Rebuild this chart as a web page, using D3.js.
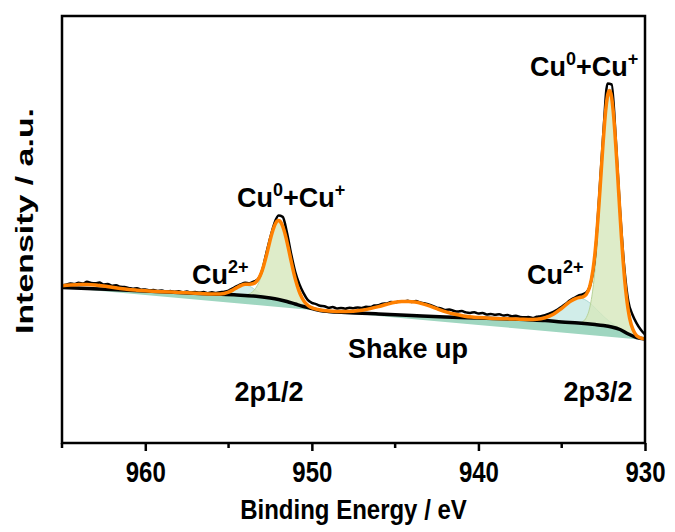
<!DOCTYPE html>
<html>
<head>
<meta charset="utf-8">
<script src="https://cdn.jsdelivr.net/npm/d3@7"></script>
<style>
  html, body { margin: 0; padding: 0; background: #fff; }
  svg text { font-family: Arial, "Liberation Sans", sans-serif; font-weight: bold; fill: #000; }
</style>
</head>
<body>
<svg id="chart" width="675" height="532"></svg>
<script>
// Cu 2p XPS spectrum, binding energy (eV) vs intensity (a.u.)

// raw spectrum: 965 eV down to 930 eV, 0.25 eV step
const rawStart = 965;
const rawStep = 0.25;
const rawIntensity = [
  157.5, 158.2, 159.6, 158.9, 160.3, 159.4, 161.2, 160.1, 159.7, 160.4,
  158.6, 158.9, 157.3, 157.8, 156.2, 155.9, 155.1, 154.2, 154.8, 153.3,
  153.6, 152.4, 152.9, 151.8, 152.6, 151.2, 151.9, 150.8, 151.7, 150.6,
  151.4, 150.3, 151.1, 150.2, 150.9, 149.8, 150.7, 150.1, 150.8, 151.3,
  152.4, 154.6, 156.8, 158.9, 160.2, 159.8, 161.4, 163.5, 171.8, 188.5,
  205.1, 219.6, 227.4, 226.1, 210.8, 189.6, 171.2, 158.7, 149.8, 143.1,
  140.2, 138.9, 137.3, 136.8, 135.2, 135.9, 134.6, 135.1, 134.3, 135.2,
  134.8, 135.6, 135.1, 136.3, 135.9, 137.4, 137.8, 139.2, 139.6, 140.9,
  140.4, 141.8, 141.2, 142.3, 141.1, 141.9, 140.5, 139.8, 138.6, 137.2,
  135.4, 134.6, 133.1, 133.5, 132.2, 131.4, 131.9, 130.6, 130.1, 130.8,
  129.4, 129.9, 128.6, 129.1, 128.2, 128.7, 127.5, 127.9, 126.8, 127.2,
  126.1, 125.7, 125.9, 125.1, 126.2, 126.8, 127.9, 129.4, 131.2, 133.5,
  136.1, 139.3, 142.6, 145.1, 147.3, 148.6, 150.9, 160.4, 187.2, 246.5,
  310.2, 359.5, 358.5, 302.6, 233.2, 176.4, 141.5, 128.3, 119.6, 113.2,
  108.5
];

// fitted envelope
const envelope = [
  [965, 157.2], [964.5, 158.1], [964, 158.4], [963.5, 158.5], [963, 158], [962.5, 157],
  [962, 155.7], [961.5, 154.5], [961, 153.5], [960.5, 152.8], [960, 152.2], [959, 151.3],
  [958, 150.6], [957, 149.8], [956, 149.1], [955.5, 149.1], [955, 150.9], [954.75, 152.9],
  [954.5, 155.4], [954.25, 157.5], [954, 158.7], [953.75, 158.8], [953.5, 159.5], [953.38, 160.7],
  [953.18, 164.8], [953.08, 168.2], [952.98, 172.6], [952.88, 178], [952.78, 184.1], [952.68, 190.7],
  [952.58, 197.6], [952.48, 204.5], [952.38, 210.5], [952.28, 215.6], [952.18, 219.5], [952.08, 221.9],
  [951.98, 222.4], [951.88, 221.1], [951.78, 217.9], [951.68, 213.2], [951.58, 207.2], [951.48, 200.2],
  [951.38, 192.5], [951.28, 184.6], [951.18, 177], [951.08, 169.7], [950.98, 163.1], [950.78, 152.3],
  [950.58, 144.7], [950.38, 139.8], [950.18, 136.9], [949.98, 135.1], [949.5, 133], [949, 132],
  [948, 131.4], [947, 132.8], [946.5, 134.4], [946, 136.4], [945.5, 138.7], [945, 140.7],
  [944.6, 141.5], [944.2, 141.6], [943.8, 140.9], [943.4, 139.4], [942.9, 136.8], [942.4, 133.7],
  [941.9, 130.9], [941.4, 128.7], [940.9, 127.1], [940.4, 126], [940, 125.5], [939.5, 125],
  [939, 124.5], [938.5, 124.25], [938, 124], [937.5, 123.8], [937, 123.5], [936.5, 123.75],
  [936, 125.25], [935.5, 128.7], [935, 134.65], [934.5, 141.4], [934.12, 144.65], [933.92, 145.5],
  [933.72, 146.2], [933.52, 148.8], [933.32, 156.2], [933.12, 173.5], [933.02, 187.1], [932.92, 204.5],
  [932.82, 225.4], [932.72, 249.1], [932.62, 274.2], [932.52, 299], [932.42, 321.3], [932.32, 338.7],
  [932.22, 349.6], [932.12, 352.5], [932.02, 347.2], [931.92, 333.6], [931.82, 313.6], [931.72, 288.7],
  [931.62, 261.5], [931.52, 233.8], [931.42, 207.2], [931.32, 183.4], [931.22, 163.2], [931.12, 147],
  [930.92, 124.7], [930.72, 113.3], [930.52, 107.7], [930.32, 105.4], [930.12, 104.35], [930, 104]
];

// Shirley-type background
const background = [
  [965, 155.5], [962, 153.5], [960, 152], [958, 150.5], [956, 149], [954.5, 148],
  [953.5, 147], [952.5, 145], [952, 143.5], [951.5, 141.5], [951, 139], [950.5, 136.5],
  [950, 134.5], [949.5, 132.5], [949, 131.5], [948, 130.5], [947, 129.8], [946, 129],
  [944, 127.5], [942, 126], [940, 125], [938, 124], [937, 123.3], [936, 122.5],
  [935, 121], [934, 120], [933, 118.5], [932.5, 117.5], [932, 116], [931.5, 113.5],
  [931, 109], [930.5, 105.5], [930, 104]
];

// straight baseline under the fit
const baseline = [[965, 155.5], [930, 103]];

// fitted components, height above background
const cu0Cu1_2p12 = [
  [954.4, 0.1], [953.98, 0.7], [953.58, 3.8], [953.38, 7.8], [953.18, 14.4], [952.98, 24.2],
  [952.88, 30.3], [952.78, 37.1], [952.68, 44.2], [952.58, 51.6], [952.48, 58.8], [952.38, 65.4],
  [952.28, 71], [952.18, 75.3], [952.08, 78.1], [951.98, 79], [951.88, 78.1], [951.78, 75.3],
  [951.68, 71], [951.58, 65.4], [951.48, 58.8], [951.38, 51.6], [951.28, 44.2], [951.18, 37.1],
  [951.08, 30.3], [950.98, 24.2], [950.78, 14.4], [950.58, 7.8], [950.38, 3.8], [950.18, 1.7],
  [949.98, 0.7], [949.6, 0.1]
];
const cu2_2p12 = [
  [956, 0.04], [955.5, 0.46], [955.25, 1.2], [955, 2.6], [954.75, 4.8], [954.5, 7.4],
  [954.25, 9.6], [954, 10.5], [953.75, 9.6], [953.5, 7.4], [953.25, 4.8], [953, 2.6],
  [952.75, 1.2], [952.5, 0.46], [952, 0.04]
];
const cu0Cu1_2p32 = [
  [934.12, 0.15], [933.92, 0.6], [933.72, 2.0], [933.52, 6.2], [933.32, 16.1], [933.12, 36.4],
  [933.02, 51.6], [932.92, 70.7], [932.82, 93.3], [932.72, 118.7], [932.62, 145.5], [932.52, 171.8],
  [932.42, 195.6], [932.32, 214.5], [932.22, 226.8], [932.12, 231], [932.02, 226.8], [931.92, 214.5],
  [931.82, 195.6], [931.72, 171.8], [931.62, 145.5], [931.52, 118.7], [931.42, 93.3], [931.32, 70.7],
  [931.22, 51.6], [931.12, 36.4], [930.92, 16.1], [930.72, 6.2], [930.52, 2.0], [930.32, 0.6],
  [930.12, 0.15], [930, 0.05]
];
const cu2_2p32 = [
  [937, 0.2], [936.4, 1.1], [936.15, 2.0], [935.9, 3.4], [935.65, 5.4], [935.4, 8.1],
  [935.15, 11.5], [934.9, 15.2], [934.65, 18.9], [934.4, 22.1], [934.15, 24.2], [933.9, 25],
  [933.65, 24.2], [933.4, 22.1], [933.15, 18.9], [932.9, 15.2], [932.65, 11.5], [932.4, 8.1],
  [932.15, 5.4], [931.9, 3.4], [931.65, 2.0], [931.4, 1.1], [930.8, 0.2]
];

const xTicks = [960, 950, 940, 930];
const xMinorTicks = [965, 955, 945, 935];

const width = 675, height = 532;
const margin = { left: 62, right: 30, top: 16, bottom: 89 };
const plotW = width - margin.left - margin.right;
const plotH = height - margin.top - margin.bottom;

const svg = d3.select("#chart");

const x = d3.scaleLinear().domain([965, 930]).range([margin.left, margin.left + plotW]);
const y = d3.scaleLinear().domain([0, 427]).range([margin.top + plotH, margin.top]);

// background / baseline as piecewise-linear scales
const bg = d3.scaleLinear().domain(background.map(d => d[0])).range(background.map(d => d[1])).clamp(true);
const base = d3.scaleLinear().domain(baseline.map(d => d[0])).range(baseline.map(d => d[1]));

svg.append("clipPath").attr("id", "plotClip")
  .append("rect")
  .attr("x", margin.left).attr("y", margin.top)
  .attr("width", plotW).attr("height", plotH);

const plot = svg.append("g").attr("clip-path", "url(#plotClip)");

// teal band between straight baseline and background
plot.append("path")
  .datum(background)
  .attr("fill", "#9fd6c0")
  .attr("d", d3.area()
    .x(d => x(d[0]))
    .y0(d => y(base(d[0])))
    .y1(d => y(d[1])));

const compArea = d3.area()
  .curve(d3.curveMonotoneX)
  .x(d => x(d[0]))
  .y0(d => y(bg(d[0])))
  .y1(d => y(bg(d[0]) + d[1]));

const components = [
  { data: cu2_2p12, fill: "#c6e9e4", edge: "#a9d8d2" },
  { data: cu2_2p32, fill: "#c6e9e4", edge: "#a9d8d2" },
  { data: cu0Cu1_2p12, fill: "#d6e7bb", edge: "#b7d39a" },
  { data: cu0Cu1_2p32, fill: "#d6e7bb", edge: "#b7d39a" }
];

plot.selectAll("path.comp")
  .data(components)
  .enter()
  .append("path")
  .attr("class", "comp")
  .attr("d", d => compArea(d.data))
  .attr("fill", d => d.fill)
  .attr("fill-opacity", 0.8)
  .attr("stroke", d => d.edge)
  .attr("stroke-width", 1);

// raw data
plot.append("path")
  .datum(rawIntensity)
  .attr("fill", "none")
  .attr("stroke", "#000")
  .attr("stroke-width", 2.5)
  .attr("stroke-linejoin", "round")
  .attr("d", d3.line()
    .curve(d3.curveMonotoneX)
    .x((d, i) => x(rawStart - i * rawStep))
    .y(d => y(d)));

// background line
plot.append("path")
  .datum(background)
  .attr("fill", "none")
  .attr("stroke", "#000")
  .attr("stroke-width", 3.5)
  .attr("d", d3.line().curve(d3.curveMonotoneX).x(d => x(d[0])).y(d => y(d[1])));

// fit envelope
plot.append("path")
  .datum(envelope)
  .attr("fill", "none")
  .attr("stroke", "#ff8000")
  .attr("stroke-width", 3.5)
  .attr("stroke-linejoin", "round")
  .attr("d", d3.line().curve(d3.curveMonotoneX).x(d => x(d[0])).y(d => y(d[1])));

// frame
svg.append("rect")
  .attr("x", margin.left).attr("y", margin.top)
  .attr("width", plotW).attr("height", plotH)
  .attr("fill", "none")
  .attr("stroke", "#000")
  .attr("stroke-width", 2.5);

// bottom axis
const axisY = margin.top + plotH;
const xAxis = svg.append("g").attr("transform", `translate(0,${axisY})`)
  .call(d3.axisBottom(x).tickValues(xTicks).tickSize(8).tickSizeOuter(0).tickFormat(d3.format("d")));
xAxis.select(".domain").remove();
xAxis.selectAll(".tick line").attr("stroke", "#000").attr("stroke-width", 2.5);
xAxis.selectAll(".tick text")
  .attr("dy", null)
  .attr("y", 0)
  .attr("transform", "translate(0,39) scale(1,1.22)")
  .style("font-size", "24px")
  .style("font-family", "Arial, 'Liberation Sans', sans-serif")
  .style("font-weight", "bold");

svg.append("g").selectAll("line")
  .data(xMinorTicks)
  .enter()
  .append("line")
  .attr("x1", d => x(d)).attr("x2", d => x(d))
  .attr("y1", axisY).attr("y2", axisY + 5)
  .attr("stroke", "#000").attr("stroke-width", 2.5);

// axis titles
svg.append("text")
  .attr("transform", `translate(${x(947.5)},519) scale(1,1.17)`)
  .attr("text-anchor", "middle")
  .style("font-size", "24px")
  .text("Binding Energy / eV");

svg.append("text")
  .attr("transform", "translate(33,221) rotate(-90)")
  .attr("text-anchor", "middle")
  .attr("textLength", 226)
  .attr("lengthAdjust", "spacingAndGlyphs")
  .style("font-size", "24px")
  .text("Intensity / a.u.");

// peak labels
const labelSize = 27, supSize = 18, supRise = 11;
function supLabel(px, py, parts) {
  const t = svg.append("text").attr("x", px).attr("y", py).style("font-size", labelSize + "px");
  let raised = false;
  parts.forEach(p => {
    const s = t.append("tspan").text(p.t);
    if (p.sup) {
      s.attr("dy", -supRise).style("font-size", supSize + "px");
      raised = true;
    } else if (raised) {
      s.attr("dy", supRise);
      raised = false;
    }
  });
  return t;
}

supLabel(530, 76, [{ t: "Cu" }, { t: "0", sup: true }, { t: "+Cu" }, { t: "+", sup: true }]);
supLabel(237, 207, [{ t: "Cu" }, { t: "0", sup: true }, { t: "+Cu" }, { t: "+", sup: true }]);
supLabel(192, 284, [{ t: "Cu" }, { t: "2+", sup: true }]);
supLabel(527, 284, [{ t: "Cu" }, { t: "2+", sup: true }]);

svg.append("text").attr("x", 408).attr("y", 358).attr("text-anchor", "middle")
  .style("font-size", labelSize + "px").text("Shake up");
svg.append("text").attr("x", 269).attr("y", 401).attr("text-anchor", "middle")
  .style("font-size", labelSize + "px").text("2p1/2");
svg.append("text").attr("x", 598).attr("y", 401).attr("text-anchor", "middle")
  .style("font-size", labelSize + "px").text("2p3/2");
</script>
</body>
</html>
